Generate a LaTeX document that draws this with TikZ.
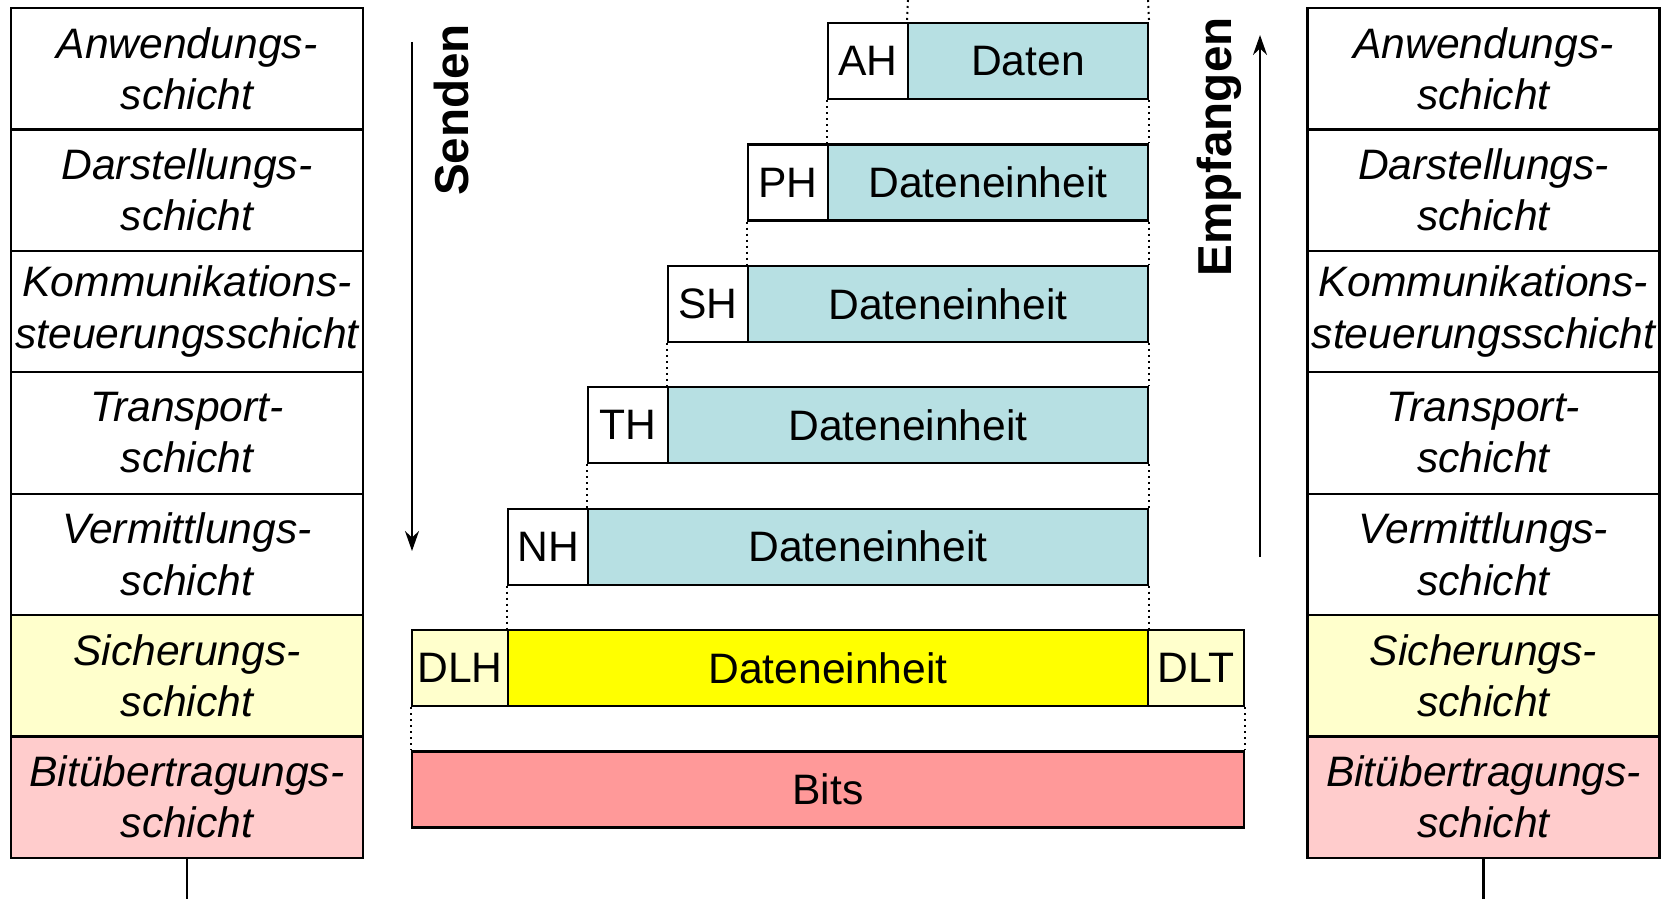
\documentclass[tikz,border=0pt]{standalone}
\usepackage{fontspec}
\setmainfont{Liberation Sans}
\usetikzlibrary{arrows.meta}
\definecolor{teal1}{RGB}{183,224,227}
\definecolor{lyell}{RGB}{255,255,204}
\definecolor{lpink}{RGB}{255,204,204}
\definecolor{salmon1}{RGB}{255,153,153}
\definecolor{yell}{RGB}{255,255,0}
\begin{document}
\begin{tikzpicture}[x=0.5pt,y=-0.5pt,
  every node/.style={font=\fontsize{21.3}{25.6}\selectfont},
  layer/.style={draw=black,line width=1.1pt,minimum width=176pt,minimum height=60.7pt,inner sep=0pt,align=center,font=\fontsize{21.3}{25.6}\selectfont\itshape},
  pdu/.style={draw=black,line width=1.1pt,minimum height=38pt,inner sep=0pt,anchor=center},
  hdr/.style={pdu,fill=white,minimum width=40pt},
  dat/.style={pdu,fill=teal1},
  guide/.style={dotted,line width=1pt},
  flow/.style={line width=1.1pt,-{Stealth[length=10pt,width=7pt]}},
  dir/.style={rotate=90,font=\fontsize{23.8}{28}\selectfont\bfseries}
]
\useasboundingbox (0,0) rectangle (1673,899);
% left stack
\node[layer] (L1) at (187,68.7) {Anwendungs-\\schicht};
\node[layer] (L2) at (187,190.1) {Darstellungs-\\schicht};
\node[layer] (L3) at (187,311.5) {Kommunikations-\\steuerungsschicht};
\node[layer] (L4) at (187,432.9) {Transport-\\schicht};
\node[layer] (L5) at (187,554.3) {Vermittlungs-\\schicht};
\node[layer,fill=lyell] (L6) at (187,675.7) {Sicherungs-\\schicht};
\node[layer,fill=lpink] (L7) at (187,797.1) {Bitübertragungs-\\schicht};
% right stack
\node[layer] (R1) at (1483.5,68.7) {Anwendungs-\\schicht};
\node[layer] (R2) at (1483.5,190.1) {Darstellungs-\\schicht};
\node[layer] (R3) at (1483.5,311.5) {Kommunikations-\\steuerungsschicht};
\node[layer] (R4) at (1483.5,432.9) {Transport-\\schicht};
\node[layer] (R5) at (1483.5,554.3) {Vermittlungs-\\schicht};
\node[layer,fill=lyell] (R6) at (1483.5,675.7) {Sicherungs-\\schicht};
\node[layer,fill=lpink] (R7) at (1483.5,797.1) {Bitübertragungs-\\schicht};
% bottom lines
\coordinate (lb) at (187,899);
\coordinate (rb) at (1483.5,899);
\draw[line width=1.1pt] (L7.south) -- (lb);
\draw[line width=1.1pt] (R7.south) -- (rb);
% PDUs
\node[hdr] (AH) at (868,61) {AH};
\node[dat,minimum width=120pt] (AD) at (1028,61) {Daten};
\node[hdr] (PH) at (788,182.4) {PH};
\node[dat,minimum width=160pt] (PD) at (988,182.4) {Dateneinheit};
\node[hdr] (SH) at (708,303.8) {SH};
\node[dat,minimum width=200pt] (SD) at (948,303.8) {Dateneinheit};
\node[hdr] (TH) at (628,425.2) {TH};
\node[dat,minimum width=240pt] (TD) at (908,425.2) {Dateneinheit};
\node[hdr] (NH) at (548,546.6) {NH};
\node[dat,minimum width=280pt] (ND) at (868,546.6) {Dateneinheit};
\node[pdu,fill=lyell,minimum width=48pt] (DLH) at (460,668) {DLH};
\node[pdu,fill=yell,minimum width=320pt] (DD) at (828,668) {Dateneinheit};
\node[pdu,fill=lyell,minimum width=48pt] (DLT) at (1196,668) {DLT};
\node[pdu,fill=salmon1,minimum width=416pt] (Bits) at (828,789.4) {Bits};
% dotted guides
\coordinate (t1) at (908,0);
\coordinate (t2) at (1148,0);
\draw[guide] (t1) -- (AD.north west);
\draw[guide] (t2) -- (AD.north east);
\draw[guide] (AH.south west) -- (PD.north west);
\draw[guide] (AD.south east) -- (PD.north east);
\draw[guide] (PH.south west) -- (SD.north west);
\draw[guide] (PD.south east) -- (SD.north east);
\draw[guide] (SH.south west) -- (TD.north west);
\draw[guide] (SD.south east) -- (TD.north east);
\draw[guide] (TH.south west) -- (ND.north west);
\draw[guide] (TD.south east) -- (ND.north east);
\draw[guide] (NH.south west) -- (DD.north west);
\draw[guide] (ND.south east) -- (DD.north east);
\draw[guide] (DLH.south west) -- (Bits.north west);
\draw[guide] (DLT.south east) -- (Bits.north east);
% direction arrows
\coordinate (s1) at (412,42);
\coordinate (s2) at (412,551);
\draw[flow] (s1) -- (s2);
\node[dir] (send) at (451,110) {Senden};
\coordinate (e1) at (1260,557);
\coordinate (e2) at (1260,35);
\draw[flow] (e1) -- (e2);
\node[dir] (recv) at (1219,147) {Empfangen};
\end{tikzpicture}
\end{document}
